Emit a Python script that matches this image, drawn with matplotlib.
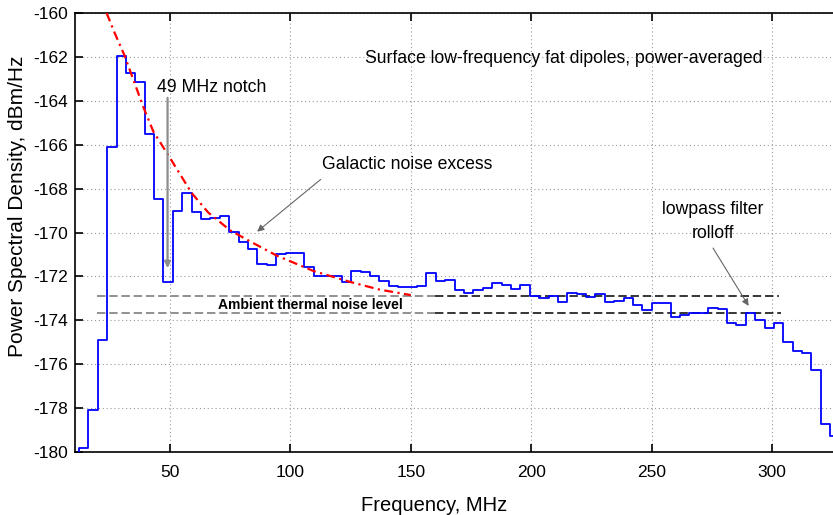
import numpy as np
import matplotlib
matplotlib.use("Agg")
import matplotlib.pyplot as plt

plt.rcParams['font.family'] = ['Liberation Sans', 'DejaVu Sans']
plt.rcParams['axes.unicode_minus'] = False

# ---- data ----
first_edge_mhz = 8.3          # left edge of first (clipped) bin
bin_width_mhz = 3.9
psd_steps = [
    -180.5, -179.8, -178.1, -174.9, -166.1, -161.95, -162.75, -163.13, -165.5,
    -168.47, -172.25, -169.03, -168.19, -169.08, -169.38, -169.32, -169.25,
    -169.97, -170.43, -170.77, -171.44, -171.48, -170.99, -170.95, -170.92,
    -171.56, -171.97, -171.97, -172.0, -172.24, -171.74, -171.82, -172.0,
    -172.2, -172.42, -172.5, -172.46, -172.43, -171.83, -172.21, -172.16,
    -172.62, -172.74, -172.62, -172.54, -172.31, -172.39, -172.59, -172.39,
    -172.89, -173.0, -172.89, -173.15, -172.75, -172.8, -172.92, -172.8,
    -173.18, -173.11, -173.0, -173.3, -173.53, -173.23, -173.23, -173.84,
    -173.76, -173.68, -173.68, -173.42, -173.5, -174.14, -174.21, -173.65,
    -173.99, -174.34, -174.11, -174.97, -175.38, -175.47, -176.26, -178.72,
    -179.27,
]

galactic_freq = [23.7, 27.0, 31.0, 35.0, 39.0, 43.1, 50.0, 59.0, 66.0, 75.0,
                 83.2, 94.3, 109.5, 124.8, 137.0, 150.0]
galactic_psd = [-160.0, -160.9, -161.9, -163.1, -164.3, -165.4, -166.6, -168.2,
                -169.1, -169.9, -170.4, -171.05, -171.75, -172.25, -172.6, -172.85]

thermal_upper = -172.89
thermal_lower = -173.68
thermal_start, thermal_split, thermal_end = 19.5, 160.0, 303.8

x_ticks = [50, 100, 150, 200, 250, 300]
y_ticks = [-180, -178, -176, -174, -172, -170, -168, -166, -164, -162, -160]

# ---- figure ----
fig = plt.figure(figsize=(8.33, 5.15), dpi=100)
ax = fig.add_axes([0.0900, 0.1223, 0.9235, 0.8524])

edges = first_edge_mhz + bin_width_mhz * np.arange(len(psd_steps) + 1)
vals = np.append(psd_steps, psd_steps[-1])
ax.step(edges, vals, where='post', color='#0000ff', lw=1.3, zorder=3)

ax.plot(galactic_freq, galactic_psd, color='#ff0000', lw=1.6,
        dashes=(4, 2, 1, 2), zorder=4)

for yv, xe in ((thermal_upper, thermal_end - 0.8), (thermal_lower, thermal_end)):
    ax.plot([thermal_start, thermal_split], [yv, yv], color='0.45', lw=1.1,
            dashes=(5.5, 2.5), zorder=2)
    ax.plot([thermal_split, xe], [yv, yv], color='black', lw=1.1,
            dashes=(5.5, 2.5), zorder=2)

ax.text(70.0, -173.32, 'Ambient thermal noise level', fontsize=10,
        fontweight='bold', ha='left', va='center')

ax.text(131.0, -162.05, 'Surface low-frequency fat dipoles, power-averaged',
        fontsize=12.7, ha='left', va='center')

ax.text(44.6, -163.4, '49 MHz notch', fontsize=12.7, ha='left', va='center')
ax.annotate('', xy=(49.0, -171.75), xytext=(49.0, -163.74),
            arrowprops=dict(arrowstyle='-|>', color='0.55', lw=1.6,
                            mutation_scale=9), zorder=5)

ax.text(113.1, -166.9, 'Galactic noise excess', fontsize=12.7, ha='left',
        va='center')
ax.annotate('', xy=(85.3, -170.04), xytext=(113.5, -167.5),
            arrowprops=dict(arrowstyle='-|>', color='0.4', lw=0.8,
                            mutation_scale=10))

ax.text(275.5, -169.49, 'lowpass filter\nrolloff', fontsize=12.7,
        ha='center', va='center', linespacing=1.55)
ax.annotate('', xy=(290.9, -173.45), xytext=(274.9, -170.6),
            arrowprops=dict(arrowstyle='-|>', color='0.4', lw=0.8,
                            mutation_scale=10))

ax.set_xlim(10.55, 330.0)
ax.set_ylim(-180, -160)
ax.set_xticks(x_ticks)
ax.set_yticks(y_ticks)
ax.tick_params(direction='in', length=6, width=1.2, labelsize=12.5,
               top=True, right=True, colors='black')
ax.tick_params(axis='x', pad=9)
ax.tick_params(axis='y', pad=5)
ax.grid(True, color='0.6', linestyle=(0, (1, 2.5)), lw=0.8)
for s in ax.spines.values():
    s.set_linewidth(1.2)

ax.set_xlabel('Frequency, MHz', fontsize=14.5, va='center')
ax.xaxis.set_label_coords(0.4675, -0.1207)
ax.set_ylabel('Power Spectral Density, dBm/Hz', fontsize=15)
ax.yaxis.set_label_coords(-0.063, 0.56)

fig.savefig('out.png', dpi=100)
